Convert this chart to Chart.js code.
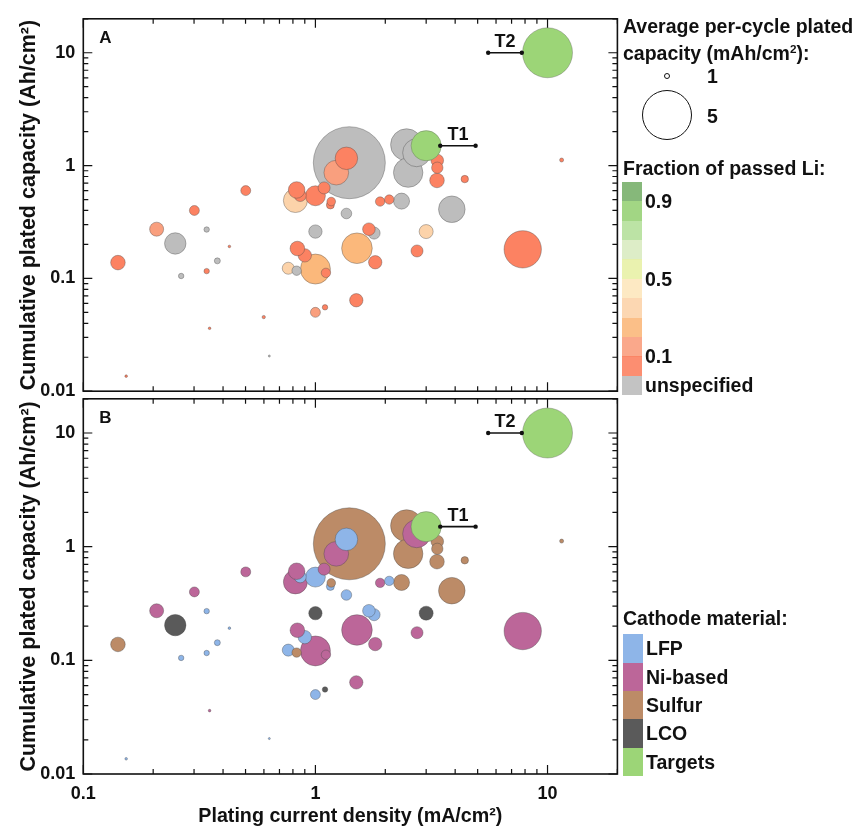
<!DOCTYPE html>
<html lang="en">
  <head>
    <meta charset="UTF-8" />
    <title>Plated capacity vs current density</title>
    <script src="https://cdn.jsdelivr.net/npm/chart.js@4.4.1/dist/chart.umd.min.js"></script>
    <style>
      body { margin: 0; background: #fff; }
      #page { position: relative; width: 856px; height: 830px; font-family: "Liberation Sans", Arial, sans-serif; font-weight: bold; color: #111; }
      canvas { position: absolute; left: 0; }
      .t { position: absolute; font-size: 19.5px; line-height: 1; white-space: nowrap; transform: translateY(-50%); }
      .t sup { font-size: 0.6em; vertical-align: 0.6em; line-height: 0; }
      .sw { position: absolute; }
      .ring { position: absolute; border: 1.4px solid #111; border-radius: 50%; box-sizing: border-box; }
    </style>
  </head>
  <body>
    <div id="page">
      <canvas id="chartA" width="640" height="410" style="top:0"></canvas>
      <canvas id="chartB" width="640" height="450" style="top:380px"></canvas>
      <div id="legend"></div>
    </div>
    <script>
      // one entry per study: current density (mA/cm2), cumulative capacity (Ah/cm2),
      // per-cycle capacity (mAh/cm2), fraction of passed Li (null = unspecified), cathode
      const current = [1.40, 7.82, 2.47, 1.51, 1.00, 2.51, 2.73, 3.87, 1.23, 0.82, 1.36, 0.249, 1.00, 0.86, 0.83, 2.35, 0.141, 3.34, 0.90, 0.836, 0.207, 3.00, 1.00, 1.81, 1.50, 3.35, 1.79, 1.70, 1.09, 2.74, 0.764, 3.35, 1.36, 0.301, 0.501, 1.00, 1.90, 2.08, 0.83, 1.11, 1.16, 1.17, 4.40, 0.378, 0.340, 0.340, 0.264, 1.10, 11.5, 0.599, 0.426, 0.350, 0.153, 0.633];
      const cumulative = [1.06, 0.181, 1.53, 0.185, 0.121, 0.866, 1.30, 0.41, 0.866, 0.49, 1.16, 0.204, 0.54, 0.543, 0.608, 0.484, 0.138, 0.738, 0.16, 0.184, 0.273, 0.26, 0.26, 0.139, 0.064, 1.11, 0.252, 0.273, 0.634, 0.175, 0.123, 0.957, 0.376, 0.40, 0.60, 0.050, 0.48, 0.50, 0.117, 0.112, 0.447, 0.48, 0.759, 0.143, 0.271, 0.116, 0.105, 0.0554, 1.12, 0.0454, 0.192, 0.0361, 0.0136, 0.0205];
      const perCycle = [7.0, 3.85, 3.36, 3.24, 3.18, 3.13, 3.0, 2.87, 2.7, 2.64, 2.5, 2.4, 2.27, 1.55, 1.96, 1.91, 1.78, 1.78, 1.67, 1.78, 1.73, 1.73, 1.67, 1.67, 1.67, 1.6, 1.55, 1.6, 1.55, 1.55, 1.55, 1.49, 1.42, 1.36, 1.36, 1.36, 1.31, 1.31, 1.31, 1.31, 1.18, 1.24, 1.13, 1.0, 0.95, 0.95, 0.95, 0.95, 0.82, 0.76, 0.69, 0.69, 0.69, 0.64];
      const passedLi = [null, 0.05, null, 0.25, 0.25, null, null, null, 0.15, 0.35, 0.05, null, 0.05, 0.05, 0.05, null, 0.05, 0.05, 0.05, 0.05, 0.15, 0.35, null, 0.05, 0.05, 0.05, null, 0.05, 0.05, 0.05, 0.35, 0.05, null, 0.05, 0.05, 0.15, 0.05, 0.05, null, 0.05, 0.05, 0.05, 0.05, null, null, 0.05, null, 0.05, 0.05, 0.05, 0.05, 0.05, 0.05, null];
      const cathode = ["Sulfur", "Ni-based", "Sulfur", "Ni-based", "Ni-based", "Sulfur", "Ni-based", "Sulfur", "Ni-based", "Ni-based", "LFP", "LCO", "LFP", "LFP", "Ni-based", "Sulfur", "Sulfur", "Sulfur", "LFP", "Ni-based", "Ni-based", "LCO", "LCO", "Ni-based", "Ni-based", "Sulfur", "LFP", "LFP", "Ni-based", "Ni-based", "LFP", "Sulfur", "LFP", "Ni-based", "Ni-based", "LFP", "Ni-based", "LFP", "Sulfur", "Ni-based", "LFP", "Sulfur", "Sulfur", "LFP", "LFP", "LFP", "LFP", "LCO", "Sulfur", null, "LFP", "Ni-based", "LFP", "LFP"];

      const targetNames = ["T1", "T2"];
      const targetCurrent = [3, 10];
      const targetCumulative = [1.5, 10];
      const targetPerCycle = [3.2, 5];
      const targetRangeLow = [3.45, 5.55];
      const targetRangeHigh = [4.9, 7.75];

      const xTicks = [0.1, 1, 10];
      const yTicks = [0.01, 0.1, 1, 10];
      const sizeKey = [1, 5];
      const fracLabels = ["0.9", "0.5", "0.1"];
      const cathodeNames = ["LFP", "Ni-based", "Sulfur", "LCO", "Targets"];

      const fracColors = ["#fc8262", "#f99f7e", "#fbb87b", "#fcd3aa", "#fde7bc", "#e8f1a6", "#d9ebc1", "#b5e09b", "#98d277", "#79b06c"];
      const unspecColor = "#bdbdbd";
      const cathodeColors = ["#8eb5e8", "#bc6699", "#bc8b67", "#5a5a5a", "#9cd577"];
      const targetColor = "#9cd577";
      const family = "'Liberation Sans', Arial, sans-serif";

      Chart.defaults.font.family = family;

      function radius(v) {
        return Math.max(1, 5.5 * v - 2.5);
      }
      function fracColor(f) {
        return f == null ? unspecColor : fracColors[Math.min(9, Math.floor(f * 10))];
      }

      function logTicks(min, max) {
        const out = [];
        for (let e = -3; e <= 2; e++) {
          for (let m = 1; m <= 9; m++) {
            const v = m * Math.pow(10, e);
            if (v >= min * 0.999 && v <= max * 1.001) out.push([v, m === 1]);
          }
        }
        return out;
      }

      // box + inward ticks on all four sides
      const frame = {
        id: "frame",
        afterDraw(chart) {
          const { ctx, chartArea: a } = chart;
          const x = chart.scales.x, y = chart.scales.y;
          ctx.save();
          ctx.strokeStyle = "#111";
          ctx.lineWidth = 1.2;
          ctx.beginPath();
          for (const [v, major] of logTicks(0.1, 20)) {
            const p = x.getPixelForValue(v), len = major ? 9 : 5;
            ctx.moveTo(p, a.bottom); ctx.lineTo(p, a.bottom - len);
            ctx.moveTo(p, a.top); ctx.lineTo(p, a.top + len);
          }
          for (const [v, major] of logTicks(0.01, 20)) {
            const p = y.getPixelForValue(v), len = major ? 9 : 5;
            ctx.moveTo(a.left, p); ctx.lineTo(a.left + len, p);
            ctx.moveTo(a.right, p); ctx.lineTo(a.right - len, p);
          }
          ctx.stroke();
          ctx.lineWidth = 1.6;
          ctx.strokeRect(a.left, a.top, a.right - a.left, a.bottom - a.top);
          ctx.restore();
        }
      };

      // panel letter and target names
      const marks = {
        id: "marks",
        afterDatasetsDraw(chart, args, opts) {
          const { ctx, chartArea: a } = chart;
          ctx.save();
          ctx.fillStyle = "#111";
          ctx.textAlign = "center";
          ctx.textBaseline = "middle";
          ctx.font = "bold 17px " + family;
          ctx.fillText(opts.letter, a.left + 22, a.top + 20);
          ctx.font = "bold 18px " + family;
          targetNames.forEach((n, i) => {
            const pts = chart.getDatasetMeta(i).data;
            ctx.fillText(n, (pts[0].x + pts[1].x) / 2, pts[0].y - 11);
          });
          ctx.restore();
        }
      };

      function panel(id, letter, colorOf, keep, showX, padTop, padBottom, xHeight) {
        const pts = [], cols = [];
        current.forEach((x, i) => {
          if (!keep(i)) return;
          pts.push({ x: x, y: cumulative[i], r: radius(perCycle[i]) });
          cols.push(colorOf(i));
        });
        const bars = targetNames.map((n, i) => ({
          type: "line",
          label: n,
          data: [
            { x: targetRangeLow[i], y: targetCumulative[i] },
            { x: targetRangeHigh[i], y: targetCumulative[i] }
          ],
          borderColor: "#111",
          borderWidth: 1.6,
          pointRadius: 2.2,
          pointBackgroundColor: "#111",
          pointBorderWidth: 0
        }));
        const targets = {
          label: "Targets",
          data: targetCurrent.map((x, i) => ({ x: x, y: targetCumulative[i], r: radius(targetPerCycle[i]) })),
          backgroundColor: targetColor,
          borderColor: "rgba(90,90,90,0.5)",
          borderWidth: 0.7
        };
        const studies = {
          label: "Studies",
          data: pts,
          backgroundColor: cols,
          borderColor: "rgba(70,70,70,0.55)",
          borderWidth: 0.7
        };
        const tickFont = { family: family, size: 18, weight: "bold" };
        return new Chart(document.getElementById(id), {
          type: "bubble",
          data: { datasets: [...bars, targets, studies] },
          options: {
            responsive: false,
            animation: false,
            events: [],
            layout: { autoPadding: false, padding: { left: 0, top: padTop, right: 22.6, bottom: padBottom } },
            plugins: { legend: { display: false }, tooltip: { enabled: false }, marks: { letter: letter } },
            scales: {
              x: {
                type: "logarithmic",
                min: 0.1,
                max: 20,
                display: showX,
                afterBuildTicks: s => { s.ticks = xTicks.map(v => ({ value: v })); },
                afterFit: s => { s.height = xHeight; },
                grid: { display: false, drawTicks: false },
                border: { display: false },
                ticks: { font: tickFont, color: "#111", padding: 9, maxRotation: 0, callback: v => String(v) },
                title: {
                  display: true,
                  text: "Plating current density (mA/cm²)",
                  font: { family: family, size: 19.7, weight: "bold" },
                  color: "#111",
                  padding: { top: 0, bottom: 2 }
                }
              },
              y: {
                type: "logarithmic",
                min: 0.01,
                max: 20,
                afterBuildTicks: s => { s.ticks = yTicks.map(v => ({ value: v })); },
                afterFit: s => { s.width = 83.3; },
                grid: { display: false, drawTicks: false },
                border: { display: false },
                ticks: { font: tickFont, color: "#111", padding: 8, callback: v => String(v) },
                title: {
                  display: true,
                  text: "Cumulative plated capacity (Ah/cm²)",
                  font: { family: family, size: 21.5, weight: "bold" },
                  color: "#111",
                  padding: { top: 16, bottom: 0 }
                }
              }
            }
          },
          plugins: [frame, marks]
        });
      }

      panel("chartA", "A", i => fracColor(passedLi[i]), i => true, false, 14.7, 15.5, 0);
      panel("chartB", "B", i => cathodeColors[cathodeNames.indexOf(cathode[i])], i => cathode[i] != null, true, 14.5, 0, 56);

      // legend column on the right
      const legend = document.getElementById("legend");
      function add(html, cls, style) {
        const d = document.createElement("div");
        d.className = cls;
        d.innerHTML = html;
        Object.assign(d.style, style);
        legend.appendChild(d);
        return d;
      }
      add("Average per-cycle plated", "t", { left: "623px", top: "27px" });
      add("capacity (mAh/cm<sup>2</sup>):", "t", { left: "623px", top: "53.5px" });
      const keyY = [76.3, 115];
      const labelY = [76.7, 116.7];
      sizeKey.forEach((v, i) => {
        const r = radius(v);
        add("", "ring", { left: 666.7 - r + "px", top: keyY[i] - r + "px", width: 2 * r + "px", height: 2 * r + "px" });
        add(String(v), "t", { left: "707px", top: labelY[i] + "px" });
      });

      add("Fraction of passed Li:", "t", { left: "623px", top: "168.5px" });
      const bandTop = 181.7, bandH = 19.4;
      const bands = fracColors.slice().reverse().concat([unspecColor]);
      bands.forEach((c, i) => {
        add("", "sw", { left: "621.7px", top: bandTop + i * bandH + "px", width: "20px", height: bandH + 0.3 + "px", background: c, opacity: "0.9" });
      });
      const fracAt = [1, 5, 9];
      fracLabels.forEach((t, i) => {
        add(t, "t", { left: "645px", top: bandTop + fracAt[i] * bandH + 1 + "px" });
      });
      add("unspecified", "t", { left: "645px", top: bandTop + 10.5 * bandH + 1 + "px" });

      add("Cathode material:", "t", { left: "623px", top: "618.5px" });
      const boxTop = 634.3, boxH = 28.3;
      cathodeNames.forEach((n, i) => {
        add("", "sw", { left: "622.7px", top: boxTop + i * boxH + "px", width: "20px", height: boxH + 0.3 + "px", background: cathodeColors[i] });
        add(n, "t", { left: "646px", top: boxTop + (i + 0.5) * boxH + 1 + "px" });
      });
    </script>
  </body>
</html>
